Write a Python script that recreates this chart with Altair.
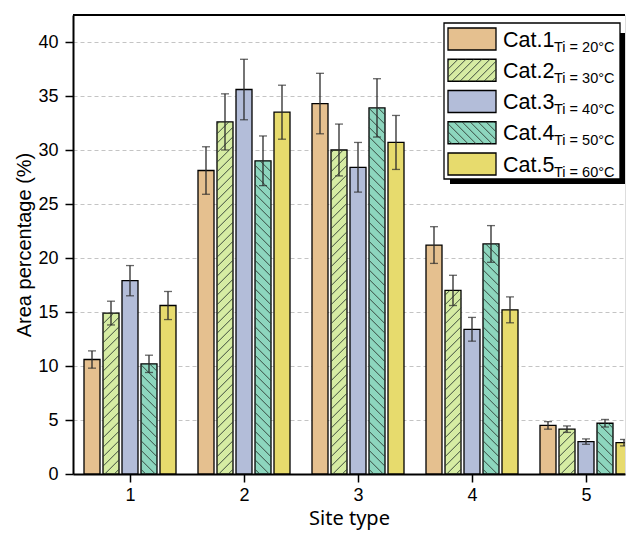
import altair as alt
import pandas as pd

# ---------------- data ----------------
sites = [1, 2, 3, 4, 5]
cats = ["Cat.1", "Cat.2", "Cat.3", "Cat.4", "Cat.5"]
subs = ["Ti = 20°C", "Ti = 30°C", "Ti = 40°C", "Ti = 50°C", "Ti = 60°C"]

cat1_vals = [10.6, 28.1, 34.3, 21.2, 4.5]
cat2_vals = [14.9, 32.6, 30.0, 17.0, 4.15]
cat3_vals = [17.9, 35.6, 28.4, 13.4, 3.0]
cat4_vals = [10.2, 29.0, 33.9, 21.3, 4.7]
cat5_vals = [15.6, 33.5, 30.7, 15.2, 2.9]

cat1_err = [0.8, 2.2, 2.8, 1.7, 0.35]
cat2_err = [1.1, 2.6, 2.4, 1.4, 0.3]
cat3_err = [1.4, 2.8, 2.3, 1.1, 0.25]
cat4_err = [0.8, 2.3, 2.7, 1.7, 0.35]
cat5_err = [1.3, 2.5, 2.5, 1.2, 0.3]

colors = ["#E5C08F", "#D6ECA3", "#B3BDD9", "#8DD6BE", "#E7DB6D"]
hatched = {1: False, 3: True}   # cat index -> mirrored ('\\') or not ('/')

all_vals = [cat1_vals, cat2_vals, cat3_vals, cat4_vals, cat5_vals]
all_errs = [cat1_err, cat2_err, cat3_err, cat4_err, cat5_err]

# ---------------- layout constants ----------------
W, H = 552, 459
PX_X = 114.0                 # px per site unit
PX_Y = H / 42.5              # px per percent
X_DOM = [0.5, 0.5 + W / PX_X]
Y_DOM = [0, 42.5]
BAR_PX = 16
STEP = 19.0 / PX_X


def hatch(wp, hp, spacing, slope, mirror):
    segs = []
    c = -wp * slope + spacing * 0.5
    while c < hp:
        ps = max(0.0, -c / slope)
        pe = min(wp, (hp - c) / slope)
        if pe - ps > 0.3:
            ys, ye = c + slope * ps, c + slope * pe
            xs, xe = (wp - ps, wp - pe) if mirror else (ps, pe)
            segs.append((xs, ys, xe, ye))
        c += spacing
    return segs


rows, hrows = [], []
for ci, (cat, vals, errs) in enumerate(zip(cats, all_vals, all_errs)):
    for s, v, e in zip(sites, vals, errs):
        xc = s + (ci - 2) * STEP
        rows.append(dict(site=s, cat=cat, value=v, lo=v - e, hi=v + e, xc=xc))
        if ci in hatched:
            for xs, ys, xe, ye in hatch(BAR_PX, v * PX_Y, 9.5, 1.0, hatched[ci]):
                xl = xc - BAR_PX / 2 / PX_X
                hrows.append(dict(x0=xl + xs / PX_X, y0=ys / PX_Y,
                                  x1=xl + xe / PX_X, y1=ye / PX_Y))
df = pd.DataFrame(rows)
hdf = pd.DataFrame(hrows)

color_scale = alt.Scale(domain=cats, range=colors)
xs_ = alt.Scale(domain=X_DOM, nice=False, zero=False, padding=0)
ys_ = alt.Scale(domain=Y_DOM, nice=False, zero=True, padding=0)

x_axis = alt.Axis(
    values=[1, 1.5, 2, 2.5, 3, 3.5, 4, 4.5, 5], format="d",
    labelExpr="datum.value % 1 === 0 ? datum.label : ''",
    tickSize={"condition": {"test": "datum.value % 1 === 0", "value": 8}, "value": 4},
    tickColor="black", tickWidth=1.5, domainColor="black", domainWidth=2,
    labelFont="Liberation Sans", labelFontSize=18, labelColor="black", labelPadding=4,
    title="Site type", titleFont="Noto Sans", titleFontSize=20, titleFontWeight="normal",
    titleColor="black", titlePadding=4, grid=False,
)
y_axis = alt.Axis(
    values=[i * 2.5 for i in range(17)], format="d",
    labelExpr="datum.value % 5 === 0 ? datum.label : ''",
    tickSize={"condition": {"test": "datum.value % 5 === 0", "value": 8}, "value": 4},
    tickColor="black", tickWidth=1.5, domainColor="black", domainWidth=2,
    labelFont="Liberation Sans", labelFontSize=18, labelColor="black", labelPadding=7,
    title="Area percentage (%)", titleFont="Liberation Sans", titleFontSize=20,
    titleFontWeight="normal", titleColor="black", titlePadding=3,
    grid=True, gridColor="#c4c4c4", gridDash=[4, 3], gridWidth=1,
    gridOpacity={"condition": {"test": "datum.value % 5 === 0 && datum.value > 0", "value": 1}, "value": 0},
)

base = alt.Chart(df)
bars = base.mark_bar(size=BAR_PX, orient="vertical", stroke="black", strokeWidth=1.3, clip=True).encode(
    x=alt.X("xc:Q", scale=xs_, axis=x_axis),
    y=alt.Y("value:Q", scale=ys_, axis=y_axis),
    fill=alt.Fill("cat:N", scale=color_scale, legend=None),
)
hatch_lines = alt.Chart(hdf).mark_rule(color="#2e3b33", strokeWidth=0.9, clip=True).encode(
    x=alt.X("x0:Q", scale=xs_), x2="x1:Q",
    y=alt.Y("y0:Q", scale=ys_), y2="y1:Q",
)
err = base.mark_rule(color="#2a2a2a", strokeWidth=1.3, clip=True).encode(
    x=alt.X("xc:Q", scale=xs_), y=alt.Y("lo:Q", scale=ys_), y2="hi:Q",
)
cap_hi = base.mark_tick(orient="horizontal", size=8, thickness=1.3, color="#2a2a2a", clip=True).encode(
    x=alt.X("xc:Q", scale=xs_), y=alt.Y("hi:Q", scale=ys_),
)
cap_lo = base.mark_tick(orient="horizontal", size=8, thickness=1.3, color="#2a2a2a", clip=True).encode(
    x=alt.X("xc:Q", scale=xs_), y=alt.Y("lo:Q", scale=ys_),
)
one = pd.DataFrame({"k": [0]})
top_rule = alt.Chart(one).mark_rule(color="black", strokeWidth=2).encode(
    x=alt.value(0), x2=alt.value(W), y=alt.value(0),
)
main = alt.layer(bars, hatch_lines, err, cap_hi, cap_lo, top_rule)

# ---------------- legend ----------------
SW_W, SW_H, PITCH = 48.0, 22.0, 31.25
lx = alt.Scale(domain=[0, 1], range=[375, 423])
ly = alt.Scale(domain=[0, 5], range=[13, 13 + 5 * PITCH])
ldf = pd.DataFrame({"cat": cats, "sub": subs, "i": list(range(5))})
ldf["x0"], ldf["x1"] = 0.0, 1.0
ldf["y0"] = ldf["i"]
ldf["y1"] = ldf["i"] + SW_H / PITCH
ldf["ym"] = ldf["i"] + SW_H / PITCH / 2
lh = []
for ci, mir in hatched.items():
    for xs, ys, xe, ye in hatch(SW_W, SW_H, 8.0, 1.0, mir):
        lh.append(dict(x0=xs / SW_W, y0=ci + (SW_H - ys) / PITCH,
                       x1=xe / SW_W, y1=ci + (SW_H - ye) / PITCH))
lhdf = pd.DataFrame(lh)

shadow = alt.Chart(one).mark_rect(color="black").encode(
    x=alt.value(377), x2=alt.value(552), y=alt.value(18), y2=alt.value(169))
box = alt.Chart(one).mark_rect(fill="white", stroke="black", strokeWidth=1.3).encode(
    x=alt.value(371), x2=alt.value(547), y=alt.value(8), y2=alt.value(164))
swatch = alt.Chart(ldf).mark_rect(stroke="black", strokeWidth=1.3).encode(
    x=alt.X("x0:Q", scale=lx, axis=None), x2="x1:Q",
    y=alt.Y("y0:Q", scale=ly, axis=None), y2="y1:Q",
    fill=alt.Fill("cat:N", scale=color_scale, legend=None),
)
swatch_hatch = alt.Chart(lhdf).mark_rule(color="#2e3b33", strokeWidth=0.9).encode(
    x=alt.X("x0:Q", scale=lx, axis=None), x2="x1:Q",
    y=alt.Y("y0:Q", scale=ly, axis=None), y2="y1:Q",
)
lab_main = alt.Chart(ldf).mark_text(align="left", baseline="alphabetic", dy=7.5,
                                    font="Liberation Sans", fontSize=21.5, color="black").encode(
    x=alt.value(430), y=alt.Y("ym:Q", scale=ly, axis=None), text="cat:N")
lab_sub = alt.Chart(ldf).mark_text(align="left", baseline="alphabetic", dy=12.5,
                                   font="Liberation Sans", fontSize=14.5, color="black").encode(
    x=alt.value(481), y=alt.Y("ym:Q", scale=ly, axis=None), text="sub:N")
legend = alt.layer(shadow, box, swatch, swatch_hatch, lab_main, lab_sub)

chart = alt.layer(main, legend).resolve_scale(x="independent", y="independent").properties(
    width=W, height=H,
    padding={"left": 6, "top": 6, "right": 0, "bottom": 4},
).configure_view(stroke=None).configure(background="white")

chart.save("out.html", embed_options={"renderer": "svg", "actions": False})
